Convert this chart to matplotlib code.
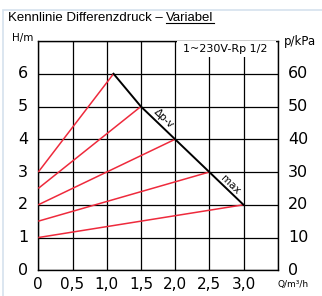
import matplotlib
matplotlib.use("Agg")
import matplotlib.pyplot as plt
from matplotlib.lines import Line2D
from matplotlib.patches import Rectangle

# Data
x_ticks = [0, 0.5, 1.0, 1.5, 2.0, 2.5, 3.0]
x_tick_labels = ["0", "0,5", "1,0", "1,5", "2,0", "2,5", "3,0"]
h_ticks = [0, 1, 2, 3, 4, 5, 6]
p_tick_labels = ["0", "10", "20", "30", "40", "50", "60"]

# variable curves: start head at Q=0 and end point on max line
red_start_h = [3.0, 2.5, 2.0, 1.5, 1.0]
red_end_q = [1.1, 1.5, 2.0, 2.5, 3.0]
red_end_h = [6.0, 5.0, 4.0, 3.0, 2.0]
# max / dp-v limit line
max_q = [1.1, 1.5, 2.0, 2.5, 3.0]
max_h = [6.0, 5.0, 4.0, 3.0, 2.0]

W, H = 322, 296
fig = plt.figure(figsize=(W / 100, H / 100), dpi=100)
fig.patch.set_facecolor("white")

# light frame
fig.add_artist(Rectangle((3 / W, -0.1), 1.2, 1 - 10 / H + 0.1, transform=fig.transFigure,
                         fill=False, edgecolor="#d6e2ee", linewidth=1.2))

ax = fig.add_axes([38.3 / W, 1 - 270.3 / H, (277.7 - 38.3) / W, (270.3 - 41) / H])
ax.set_xlim(0, 3.5)
ax.set_ylim(0, 7)
ax.set_xticks([0, 0.5, 1.0, 1.5, 2.0, 2.5, 3.0, 3.5])
ax.set_yticks([0, 1, 2, 3, 4, 5, 6, 7])
ax.grid(True, color="black", linewidth=0.9)
ax.tick_params(length=0, labelbottom=False, labelleft=False)
for s in ax.spines.values():
    s.set_color("black")
    s.set_linewidth(1.0)

font = "DejaVu Sans"
for q, lab in zip(x_ticks, x_tick_labels):
    ax.text(q, -0.42, lab, ha="center", va="center", fontsize=11, family=font)
for h, lab in zip(h_ticks, h_ticks):
    ax.text(-0.15, h, str(lab), ha="right", va="center", fontsize=11.5, family=font)
for h, lab in zip(h_ticks, p_tick_labels):
    ax.text(3.65, h, lab, ha="left", va="center", fontsize=11.5, family=font)

for h0, q1, h1 in zip(red_start_h, red_end_q, red_end_h):
    ax.plot([0, q1], [h0, h1], color="#ee2a3c", linewidth=1.1, solid_capstyle="butt", zorder=3)
ax.plot(max_q, max_h, color="black", linewidth=1.4, zorder=4)

ax.text(1.84, 4.64, "Δp-v", rotation=-44, ha="center", va="center", fontsize=7.5, family=font, zorder=5)
ax.text(2.8, 2.62, "max", rotation=-44, ha="center", va="center", fontsize=7.5, family=font, zorder=5)

# box label
ax.add_patch(Rectangle((2.03, 6.5), 1.45, 0.49, facecolor="white", edgecolor="none", zorder=4))
ax.text(2.74, 6.76, "1~230V-Rp 1/2", ha="center", va="center", fontsize=8, family=font, zorder=5)

fig.text(12 / W, 1 - 38 / H, "H/m", ha="left", va="center", fontsize=7.5, family=font)
fig.text(284 / W, 1 - 42 / H, "p/kPa", ha="left", va="center", fontsize=8.5, family=font)
fig.text(278 / W, 1 - 285 / H, "Q/m³/h", ha="left", va="center", fontsize=6.5, family=font)

t1 = fig.text(8 / W, 1 - 18 / H, "Kennlinie Differenzdruck – ", ha="left", va="center",
              fontsize=9.5, family="Liberation Sans")
fig.canvas.draw()
r = fig.canvas.get_renderer()
bb = t1.get_window_extent(r)
t2 = fig.text(bb.x1 / W, 1 - 18 / H, "Variabel", ha="left", va="center",
              fontsize=9.5, family="Liberation Sans")
fig.canvas.draw()
bb2 = t2.get_window_extent(r)
uy = (bb2.y0 + 1.5) / H
fig.add_artist(Line2D([bb2.x0 / W, bb2.x1 / W], [uy, uy], transform=fig.transFigure,
                      color="black", linewidth=0.8))

fig.savefig("out.png", dpi=100, facecolor="white")
